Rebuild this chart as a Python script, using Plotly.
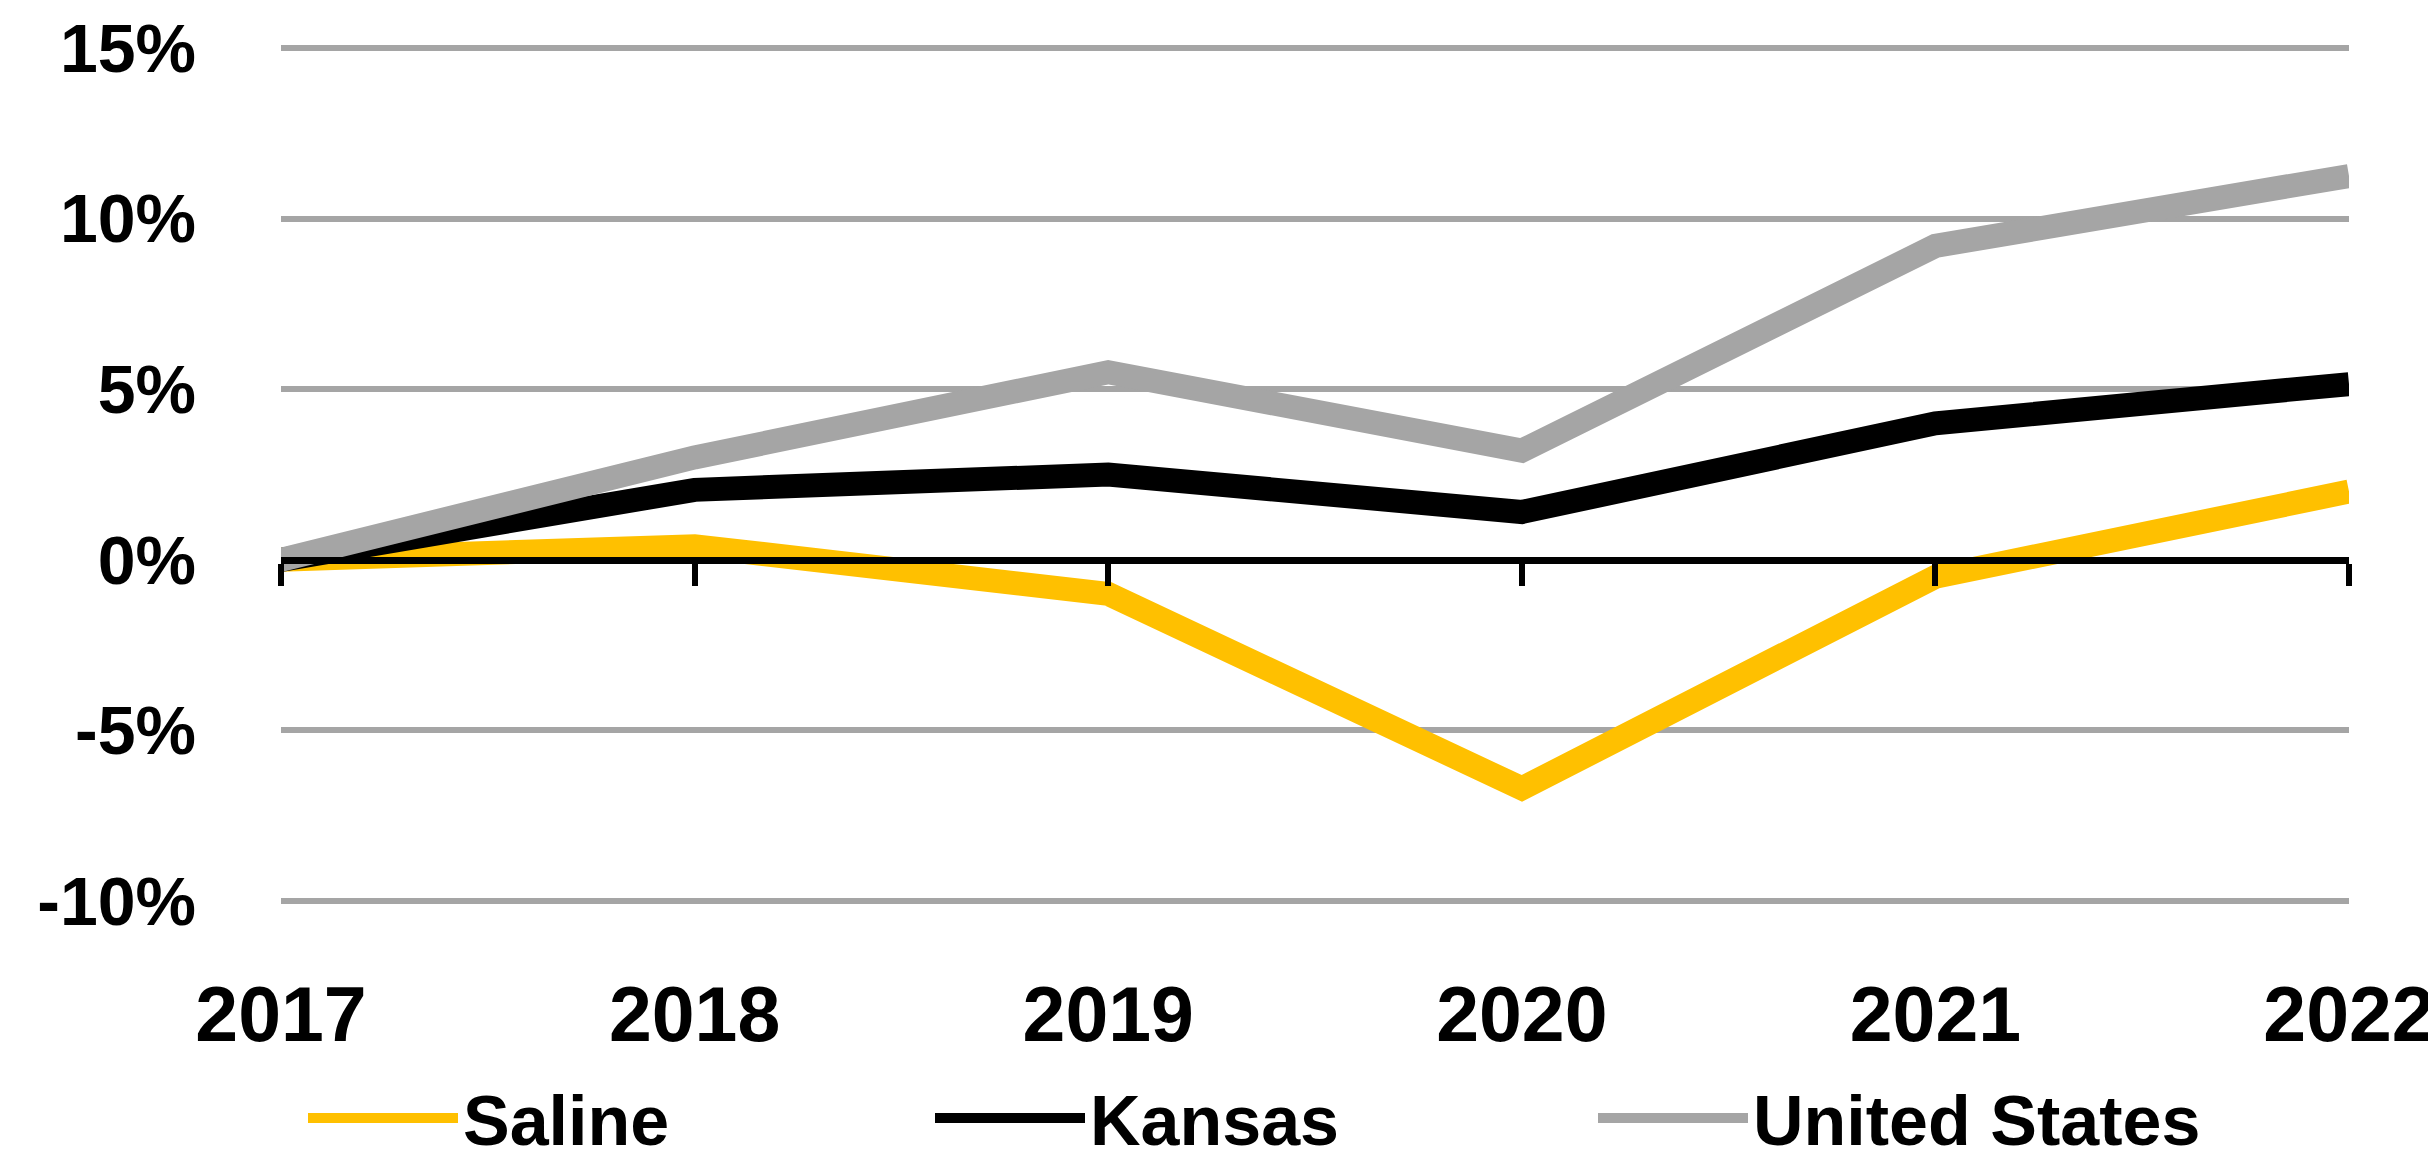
import plotly.graph_objects as go

years = [2017, 2018, 2019, 2020, 2021, 2022]
saline = [0.0, 0.004, -0.010, -0.067, -0.005, 0.020]
kansas = [0.0, 0.0205, 0.025, 0.014, 0.040, 0.0515]
united_states = [0.0, 0.030, 0.055, 0.032, 0.092, 0.1125]
y_ticks = [-0.10, -0.05, 0.0, 0.05, 0.10, 0.15]
y_tick_labels = ["-10%", "-5%", "0%", "5%", "10%", "15%"]

series = [
    ("Saline", saline, "#FFC000", "legend"),
    ("Kansas", kansas, "#000000", "legend2"),
    ("United States", united_states, "#A5A5A5", "legend3"),
]

FONT = "Liberation Sans, Arial, sans-serif"

fig = go.Figure()
for name, vals, color, lg in series:
    fig.add_trace(go.Scatter(
        x=years, y=vals, name=name, mode="lines",
        line=dict(color=color, width=24), legend=lg,
    ))

# helper trace so the overlaid zero-line axis is drawn
fig.add_trace(go.Scatter(
    x=years, y=[None] * len(years), xaxis="x2", mode="lines",
    showlegend=False, hoverinfo="skip",
))

W, H = 2436, 1159
L, R, T, B = 273, 95, 39, 265


def legend_at(xc):
    return dict(
        orientation="h", xref="container", yref="container",
        x=xc, xanchor="left", y=1 - 1110 / H, yanchor="middle",
        font=dict(family=FONT, size=70, color="black", weight="bold"),
        itemwidth=150, bgcolor="rgba(0,0,0,0)", borderwidth=0,
    )


fig.update_layout(
    width=W, height=H,
    margin=dict(l=L, r=R, t=T, b=B, autoexpand=False),
    paper_bgcolor="white", plot_bgcolor="white",
    font=dict(family=FONT, color="black"),
    showlegend=True,
    legend=legend_at(295 / W),
    legend2=legend_at(922 / W),
    legend3=legend_at(1585 / W),
    xaxis=dict(
        range=[2017, 2022], tickmode="array", tickvals=years,
        ticktext=[str(y) for y in years], automargin=False,
        showgrid=False, zeroline=False, showline=False, ticks="",
        tickfont=dict(family=FONT, size=77, color="black", weight="bold"),
        ticklabelstandoff=61,
    ),
    xaxis2=dict(
        overlaying="x", anchor="free", position=0.4, side="bottom",
        range=[2017, 2022], tickmode="array", tickvals=years,
        showticklabels=False, showgrid=False, zeroline=False, automargin=False,
        showline=True, linecolor="black", linewidth=7,
        ticks="outside", ticklen=22, tickwidth=6, tickcolor="black",
    ),
    yaxis=dict(
        range=[-0.1003, 0.1503], tickmode="array", tickvals=y_ticks,
        ticktext=y_tick_labels, automargin=False,
        showgrid=True, gridcolor="#A5A5A5", gridwidth=6,
        zeroline=False, showline=False, ticks="",
        tickfont=dict(family=FONT, size=68, color="black", weight="bold"),
        ticklabelstandoff=84,
    ),
)

fig.write_html("out.html")
